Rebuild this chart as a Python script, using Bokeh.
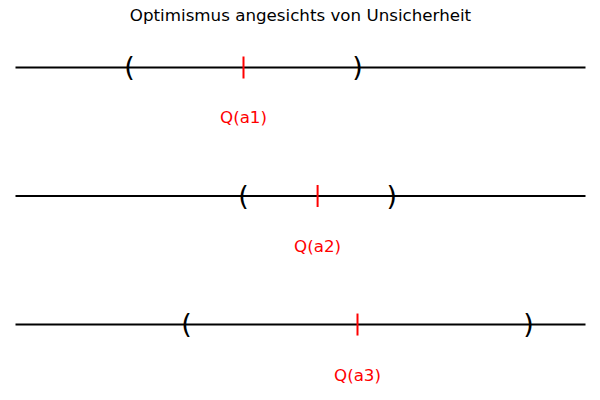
from bokeh.plotting import figure
from bokeh.models import Range1d, ColumnDataSource, Label
from bokeh.core.properties import value
from bokeh.embed import file_html
from bokeh.resources import INLINE

title = "Optimismus angesichts von Unsicherheit"
labels = ["Q(a1)", "Q(a2)", "Q(a3)"]
rows = [0, 1, 2]
q_values = [4.0, 5.3, 6.0]
lower = [2.0, 4.0, 3.0]
upper = [6.0, 6.6, 9.0]
line_start = [0.0, 0.0, 0.0]
line_end = [10.0, 10.0, 10.0]

src = ColumnDataSource(dict(row=rows, q=q_values, lo=lower, hi=upper,
                            x0=line_start, x1=line_end, label=labels,
                            lp=["("] * 3, rp=[")"] * 3))

p = figure(width=600, height=400, output_backend="svg", toolbar_location=None,
           x_range=Range1d(-15 / 57, 10 + 15 / 57),
           y_range=Range1d(2.591, -0.521),
           min_border=0, border_fill_color="white", outline_line_color=None)
p.axis.visible = False
p.grid.visible = False

p.segment(x0="x0", y0="row", x1="x1", y1="row", source=src,
          line_color="black", line_width=2)
p.rect(x="q", y="row", width=2, height=22, width_units="screen",
       height_units="screen", source=src, fill_color="red", line_color=None)
font = value("DejaVu Sans")
p.text(x="lo", y="row", text="lp", source=src, text_font=font,
       text_font_size="27px", text_align="center", text_baseline="middle",
       text_color="black", y_offset=-1)
p.text(x="hi", y="row", text="rp", source=src, text_font=font,
       text_font_size="27px", text_align="center", text_baseline="middle",
       text_color="black", y_offset=-1)
p.text(x="q", y="row", text="label", source=src, text_font=font,
       text_font_size="16.7px", text_align="center", text_baseline="middle",
       text_color="red", y_offset=50)

p.add_layout(Label(x=300, y=386, x_units="screen", y_units="screen",
                   text=title, text_font="DejaVu Sans", text_font_size="16.7px",
                   text_align="center", text_baseline="middle",
                   text_color="black"))

open("out.html", "w").write(file_html(p, INLINE))
